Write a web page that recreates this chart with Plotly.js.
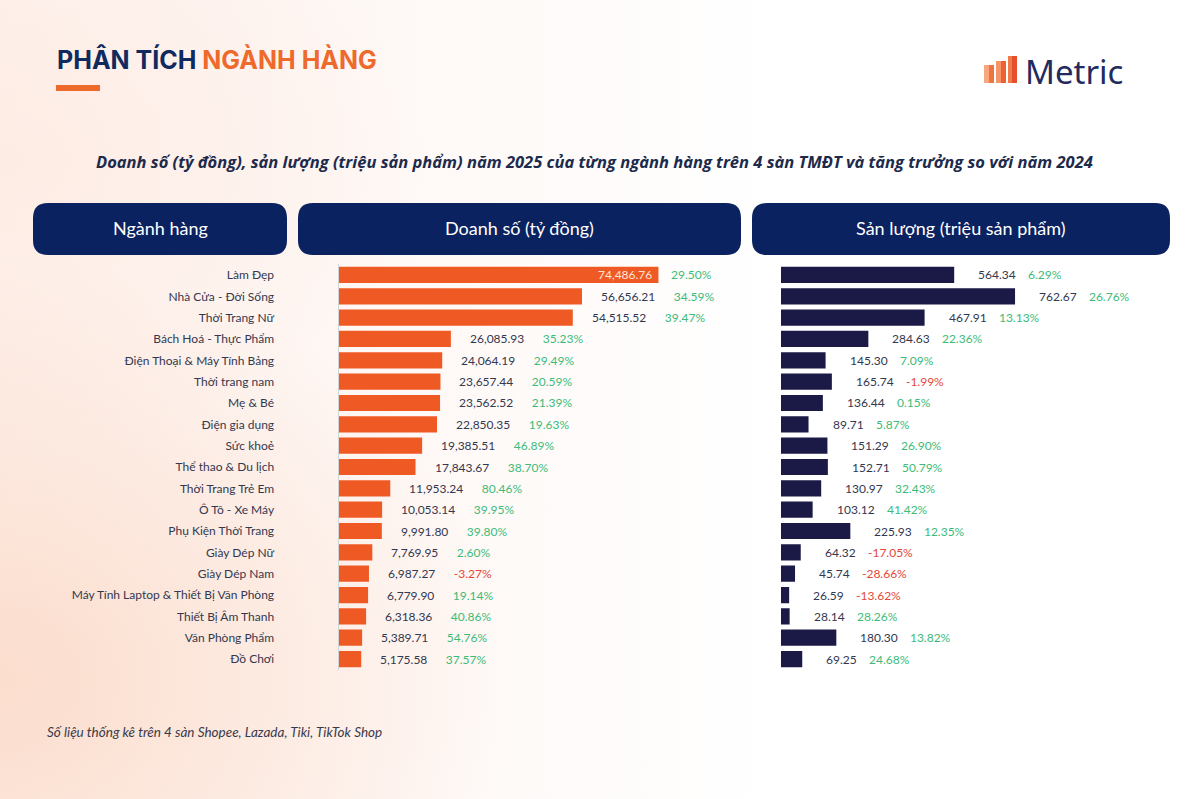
<!DOCTYPE html>
<html>
<head>
<meta charset="utf-8">
<script src="https://cdn.plot.ly/plotly-3.0.1.min.js"></script>
<style>
  html, body { margin: 0; padding: 0; }
  body {
    width: 1200px; height: 799px; overflow: hidden;
    background:
      radial-gradient(ellipse 520px 420px at 0% 85%, rgba(251,218,200,0.85) 0%, rgba(255,255,255,0) 100%),
      radial-gradient(ellipse 420px 300px at 0% 20%, rgba(253,235,226,0.8) 0%, rgba(255,255,255,0) 100%),
      linear-gradient(90deg, #fdf1ec 0%, #ffffff 65%);
  }
  #chart { width: 1200px; height: 799px; }
</style>
</head>
<body>
<div id="chart"></div>
<script>
const categories = [
  "Làm Đẹp", "Nhà Cửa - Đời Sống", "Thời Trang Nữ", "Bách Hoá - Thực Phẩm",
  "Điện Thoại & Máy Tính Bảng", "Thời trang nam", "Mẹ & Bé", "Điện gia dụng",
  "Sức khoẻ", "Thể thao & Du lịch", "Thời Trang Trẻ Em", "Ô Tô - Xe Máy",
  "Phụ Kiện Thời Trang", "Giày Dép Nữ", "Giày Dép Nam",
  "Máy Tính Laptop & Thiết Bị Văn Phòng", "Thiết Bị Âm Thanh", "Văn Phòng Phẩm", "Đồ Chơi"
];
const revenue = [74486.76, 56656.21, 54515.52, 26085.93, 24064.19, 23657.44, 23562.52, 22850.35,
  19385.51, 17843.67, 11953.24, 10053.14, 9991.80, 7769.95, 6987.27, 6779.90, 6318.36, 5389.71, 5175.58];
const revenueGrowth = [29.50, 34.59, 39.47, 35.23, 29.49, 20.59, 21.39, 19.63, 46.89, 38.70,
  80.46, 39.95, 39.80, 2.60, -3.27, 19.14, 40.86, 54.76, 37.57];
const volume = [564.34, 762.67, 467.91, 284.63, 145.30, 165.74, 136.44, 89.71, 151.29, 152.71,
  130.97, 103.12, 225.93, 64.32, 45.74, 26.59, 28.14, 180.30, 69.25];
const volumeGrowth = [6.29, 26.76, 13.13, 22.36, 7.09, -1.99, 0.15, 5.87, 26.90, 50.79,
  32.43, 41.42, 12.35, -17.05, -28.66, -13.62, 28.26, 13.82, 24.68];

const W = 1200, H = 799;
const px = v => v / W;
const py = v => 1 - v / H;

const ORANGE = "#EF5A24";
const NAVY_BAR = "#1B1A47";
const NAVY_BOX = "#0B2260";
const GREEN = "#3DBB78";
const RED = "#E5483A";
const VAL = "#33374F";
const FONT = "Lato, 'Noto Sans', sans-serif";

const fmt = v => v.toLocaleString("en-US", {minimumFractionDigits: 2, maximumFractionDigits: 2});
const pct = v => v.toFixed(2) + "%";
const gcol = v => v < 0 ? RED : GREEN;
const sp = n => "\u00A0".repeat(n);

function roundRect(x0, y0, x1, y1, r) {
  const rx = r / W, ry = r / H;
  const X0 = px(x0), X1 = px(x1), Y0 = py(y0), Y1 = py(y1);
  return `M ${X0 + rx},${Y0} L ${X1 - rx},${Y0} Q ${X1},${Y0} ${X1},${Y0 - ry} ` +
         `L ${X1},${Y1 + ry} Q ${X1},${Y1} ${X1 - rx},${Y1} L ${X0 + rx},${Y1} ` +
         `Q ${X0},${Y1} ${X0},${Y1 + ry} L ${X0},${Y0 - ry} Q ${X0},${Y0} ${X0 + rx},${Y0} Z`;
}

const traces = [
  {
    type: "bar", orientation: "h", x: revenue, y: categories,
    xaxis: "x", yaxis: "y", marker: {color: ORANGE}, hoverinfo: "skip"
  },
  {
    type: "bar", orientation: "h", x: volume, y: categories,
    xaxis: "x2", yaxis: "y2", marker: {color: NAVY_BAR}, hoverinfo: "skip"
  }
];

const annotations = [];
revenue.forEach((v, i) => {
  if (i === 0) {
    annotations.push({xref: "x", yref: "y", x: v, y: categories[i], xanchor: "right", xshift: -4,
      text: fmt(v), showarrow: false, font: {family: FONT, size: 12, color: "#FCE3D6"}});
    annotations.push({xref: "x", yref: "y", x: v, y: categories[i], xanchor: "left", xshift: 11,
      text: pct(revenueGrowth[i]), showarrow: false, font: {family: FONT, size: 12, color: gcol(revenueGrowth[i])}});
  } else {
    annotations.push({xref: "x", yref: "y", x: v, y: categories[i], xanchor: "left", xshift: 17,
      text: fmt(v) + sp(6) + `<span style="color:${gcol(revenueGrowth[i])}">${pct(revenueGrowth[i])}</span>`,
      showarrow: false, font: {family: FONT, size: 12, color: VAL}});
  }
});
volume.forEach((v, i) => {
  annotations.push({xref: "x2", yref: "y2", x: v, y: categories[i], xanchor: "left", xshift: 22,
    text: fmt(v) + sp(4) + `<span style="color:${gcol(volumeGrowth[i])}">${pct(volumeGrowth[i])}</span>`,
    showarrow: false, font: {family: FONT, size: 12, color: VAL}});
});

annotations.push(
  {xref: "paper", yref: "paper", x: px(55), y: py(60), xanchor: "left", yanchor: "middle", showarrow: false,
   text: `<b>PHÂN TÍCH <span style="color:#EE6A2C">NGÀNH HÀNG</span></b>`,
   font: {family: "Inter, 'Noto Sans', sans-serif", size: 25, color: "#0E2A5E"}},
  {xref: "paper", yref: "paper", x: px(594), y: py(161), xanchor: "center", yanchor: "middle", showarrow: false,
   text: "<b><i>Doanh số (tỷ đồng), sản lượng (triệu sản phẩm) năm 2025 của từng ngành hàng trên 4 sàn TMĐT và tăng trưởng so với năm 2024</i></b>",
   font: {family: "'Open Sans', sans-serif", size: 16.5, color: "#1C2A4C"}},
  {xref: "paper", yref: "paper", x: px(160), y: py(228), xanchor: "center", yanchor: "middle", showarrow: false,
   text: "Ngành hàng", font: {family: FONT, size: 18, color: "#FFFFFF"}},
  {xref: "paper", yref: "paper", x: px(519.5), y: py(228), xanchor: "center", yanchor: "middle", showarrow: false,
   text: "Doanh số (tỷ đồng)", font: {family: FONT, size: 18, color: "#FFFFFF"}},
  {xref: "paper", yref: "paper", x: px(961), y: py(228), xanchor: "center", yanchor: "middle", showarrow: false,
   text: "Sản lượng (triệu sản phẩm)", font: {family: FONT, size: 18, color: "#FFFFFF"}},
  {xref: "paper", yref: "paper", x: px(1023), y: py(71), xanchor: "left", yanchor: "middle", showarrow: false,
   text: "Metric", font: {family: "'Noto Sans', sans-serif", size: 33, color: "#232A5E"}},
  {xref: "paper", yref: "paper", x: px(45), y: py(732), xanchor: "left", yanchor: "middle", showarrow: false,
   text: "<i>Số liệu thống kê trên 4 sàn Shopee, Lazada, Tiki, TikTok Shop</i>",
   font: {family: FONT, size: 13.5, color: "#3A3A4A"}}
);

const shapes = [
  {type: "rect", xref: "paper", yref: "paper", x0: px(56), x1: px(100), y0: py(91), y1: py(85),
   fillcolor: "#EE6A2C", line: {width: 0}},
  {type: "path", xref: "paper", yref: "paper", path: roundRect(33, 203, 287, 255, 15), fillcolor: NAVY_BOX, line: {width: 0}},
  {type: "path", xref: "paper", yref: "paper", path: roundRect(298, 203, 741, 255, 15), fillcolor: NAVY_BOX, line: {width: 0}},
  {type: "path", xref: "paper", yref: "paper", path: roundRect(752, 203, 1170, 255, 15), fillcolor: NAVY_BOX, line: {width: 0}},
  {type: "rect", xref: "paper", yref: "paper", x0: px(984), x1: px(989), y0: py(83), y1: py(65), fillcolor: "#F8A77F", line: {width: 0}},
  {type: "rect", xref: "paper", yref: "paper", x0: px(989), x1: px(994), y0: py(83), y1: py(65), fillcolor: "#EE7440", line: {width: 0}},
  {type: "rect", xref: "paper", yref: "paper", x0: px(996), x1: px(1001), y0: py(83), y1: py(61), fillcolor: "#F6956A", line: {width: 0}},
  {type: "rect", xref: "paper", yref: "paper", x0: px(1001), x1: px(1006), y0: py(83), y1: py(61), fillcolor: "#EC6233", line: {width: 0}},
  {type: "rect", xref: "paper", yref: "paper", x0: px(1008), x1: px(1012), y0: py(83), y1: py(56), fillcolor: "#F2794A", line: {width: 0}},
  {type: "rect", xref: "paper", yref: "paper", x0: px(1012), x1: px(1017), y0: py(83), y1: py(56), fillcolor: "#E5502A", line: {width: 0}}
];

const yDomain = [py(669.7), py(264.3)];

const layout = {
  width: W, height: H, autosize: false,
  margin: {l: 0, r: 0, t: 0, b: 0, pad: 0},
  paper_bgcolor: "rgba(0,0,0,0)", plot_bgcolor: "rgba(0,0,0,0)",
  showlegend: false, bargap: 0.24,
  font: {family: FONT},
  xaxis: {domain: [px(339), px(740)], range: [0, 93500], visible: false, anchor: "y", fixedrange: true},
  yaxis: {domain: yDomain, type: "category", categoryorder: "array", categoryarray: categories,
    range: [categories.length - 0.5, -0.5], anchor: "x",
    showline: true, linecolor: "#D3D3D3", linewidth: 1.5, showgrid: false, zeroline: false,
    ticks: "outside", ticklen: 61, tickcolor: "rgba(0,0,0,0)",
    tickfont: {family: FONT, size: 12, color: "#34384F"}, fixedrange: true},
  xaxis2: {domain: [px(781), px(1160)], range: [0, 1235], visible: false, anchor: "y2", fixedrange: true},
  yaxis2: {domain: yDomain, type: "category", categoryorder: "array", categoryarray: categories,
    range: [categories.length - 0.5, -0.5], anchor: "x2",
    showticklabels: false, showline: false, showgrid: false, zeroline: false, ticks: "", fixedrange: true},
  annotations: annotations,
  shapes: shapes
};

Plotly.newPlot("chart", traces, layout, {displayModeBar: false, staticPlot: true});
</script>
</body>
</html>
